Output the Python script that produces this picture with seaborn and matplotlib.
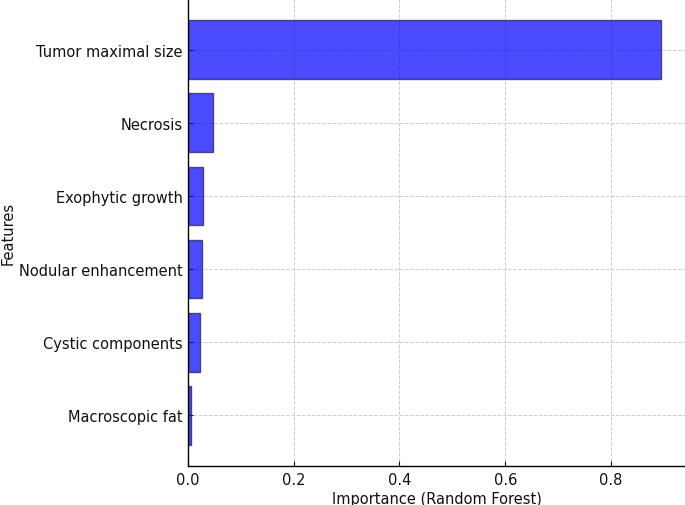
import pandas as pd
import numpy as np
import matplotlib
matplotlib.use("Agg")
import matplotlib.pyplot as plt
import seaborn as sns

# Feature importances
features = ['Tumor maximal size', 'Necrosis', 'Exophytic growth',
            'Nodular enhancement', 'Cystic components', 'Macroscopic fat']
importance = [0.895, 0.047, 0.029, 0.026, 0.023, 0.005]
x_ticks = [0.0, 0.2, 0.4, 0.6, 0.8]

df = pd.DataFrame({'Feature': features, 'Importance': importance})

sns.set_style('white')
plt.rcParams['font.family'] = ['DejaVu Sans']

fig = plt.figure(figsize=(6.85, 5.06), dpi=100)
ax = fig.add_axes([188 / 685, 39 / 506, 1 - 188 / 685, 1 - 39 / 506])

sns.barplot(data=df, y='Feature', x='Importance', orient='h', ax=ax,
            color='blue', saturation=1, alpha=0.7, edgecolor='#1a1a4d',
            linewidth=1, width=0.8)

ax.set_xlim(0, 0.94)
ax.set_ylim(5.69, -0.69)
ax.set_xticks(x_ticks)
ax.grid(True, linestyle='--', color='#c0c0c0', linewidth=0.7, alpha=0.8)
ax.set_axisbelow(True)

ax.tick_params(direction='in', length=3.5, width=0.8, labelsize=10.5,
               colors='#111111', bottom=True, left=True, pad=4)
for side in ['top', 'right']:
    ax.spines[side].set_visible(False)
for side in ['left', 'bottom']:
    ax.spines[side].set_color('black')
    ax.spines[side].set_linewidth(1.0)

ax.set_xlabel('Importance (Random Forest)', fontsize=10.5, labelpad=3, color='#111111')
ax.set_ylabel('Features', fontsize=10.5, color='#111111')
ax.yaxis.set_label_coords(-0.346, 0.5)

fig.savefig('out.png', dpi=100)
